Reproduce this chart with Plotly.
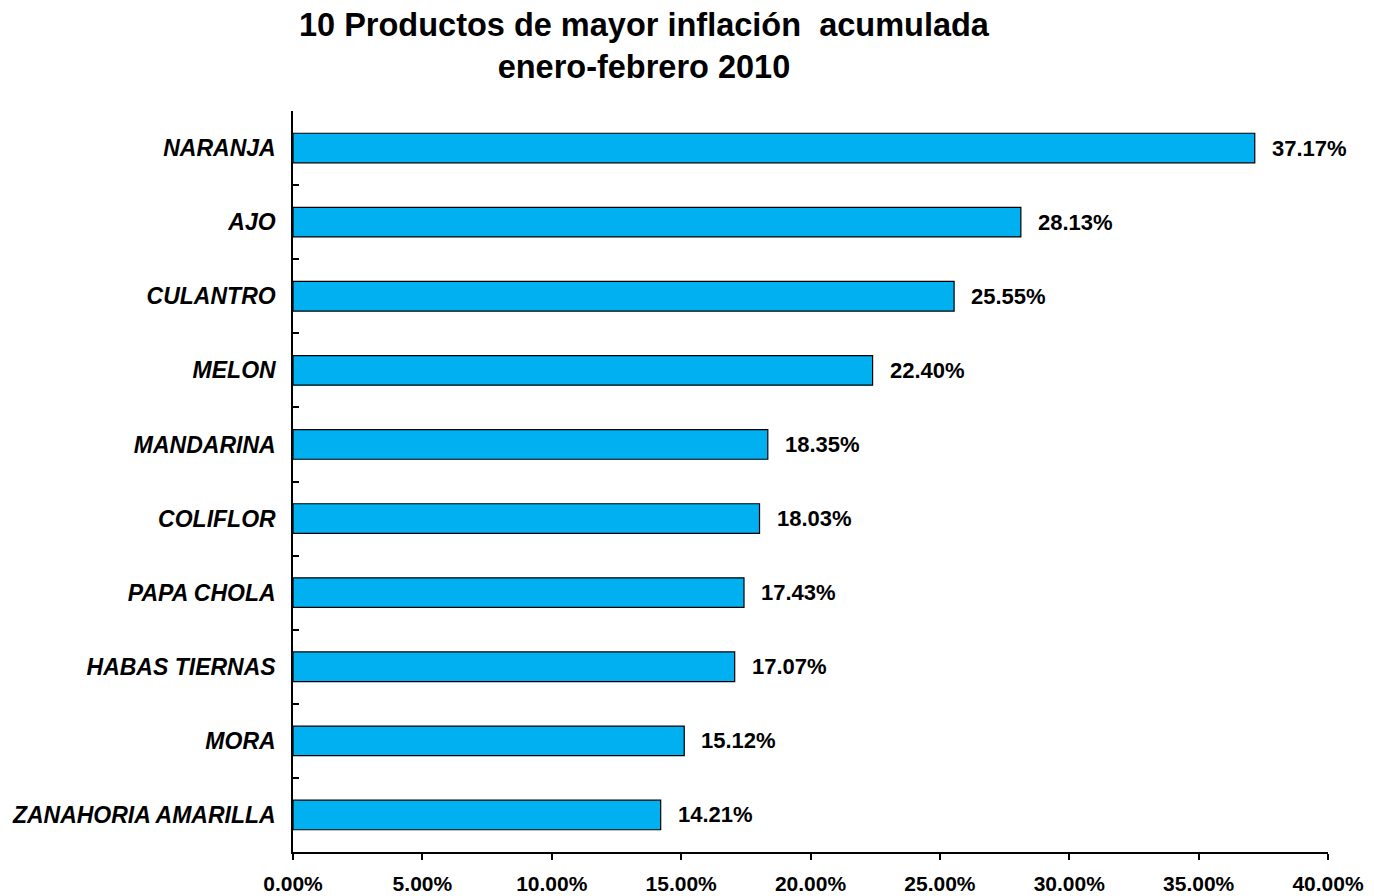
import plotly.graph_objects as go

productos = ["NARANJA", "AJO", "CULANTRO", "MELON", "MANDARINA", "COLIFLOR",
             "PAPA CHOLA", "HABAS TIERNAS", "MORA", "ZANAHORIA AMARILLA"]
inflacion = [37.17, 28.13, 25.55, 22.40, 18.35, 18.03, 17.43, 17.07, 15.12, 14.21]
xticks = [0, 5, 10, 15, 20, 25, 30, 35, 40]
xtick_labels = [f"{v:.2f}%" for v in xticks]
titulo = "10 Productos de mayor inflación  acumulada<br>enero-febrero 2010"

FONT = "Liberation Sans, Arial, sans-serif"

# page body adds ~8px offset; compensate
OFF = 8
W, H = 1374 - OFF, 896 - OFF
L, R, T, B = 293 - OFF, 46, 111 - OFF, 44
pw, ph = W - L - R, H - T - B

fig = go.Figure()
fig.add_trace(go.Bar(
    x=inflacion, y=productos, orientation="h",
    marker=dict(color="#00B0F0", line=dict(color="#000000", width=1.2)),
    width=0.4, hoverinfo="x+y",
))

annotations = []
for p, v in zip(productos, inflacion):
    annotations.append(dict(
        x=v, y=p, xref="x", yref="y", text=f"<b>{v:.2f}%</b>",
        showarrow=False, xanchor="left", yanchor="middle", xshift=15,
        font=dict(family=FONT, size=22, color="#000000"),
    ))
annotations.append(dict(
    x=(644 - 293) / pw, y=1 + (111 - 46) / ph, xref="paper", yref="paper",
    text=f"<b>{titulo}</b>", showarrow=False, xanchor="center", yanchor="middle",
    borderpad=0,
    font=dict(family=FONT, size=32.5, color="#000000"),
))

fig.update_layout(
    width=W, height=H,
    margin=dict(l=L, r=R, t=T, b=B, pad=0, autoexpand=False),
    paper_bgcolor="white", plot_bgcolor="white",
    showlegend=False,
    annotations=annotations,
    xaxis=dict(
        range=[0, 40], tickvals=xticks, ticktext=[f"<b>{t}</b>" for t in xtick_labels],
        showgrid=False, zeroline=False, showline=True, linecolor="#000000", linewidth=1.5,
        ticks="outside", ticklen=6, tickwidth=1.5, tickcolor="#000000",
        tickfont=dict(family=FONT, size=21, color="#000000"),
        ticklabelstandoff=6, automargin=False,
    ),
    yaxis=dict(
        type="category", categoryorder="array", categoryarray=productos,
        range=[9.5, -0.5],
        tickvals=productos, ticktext=[f"<b><i>{p}</i></b>" for p in productos],
        showgrid=False, zeroline=False, showline=True, linecolor="#000000", linewidth=1.5,
        ticks="inside", tickson="boundaries", ticklen=6, tickwidth=1.5, tickcolor="#000000",
        tickfont=dict(family=FONT, size=23, color="#000000"),
        ticklabelstandoff=11, automargin=False,
    ),
)

fig.write_html("out.html")
